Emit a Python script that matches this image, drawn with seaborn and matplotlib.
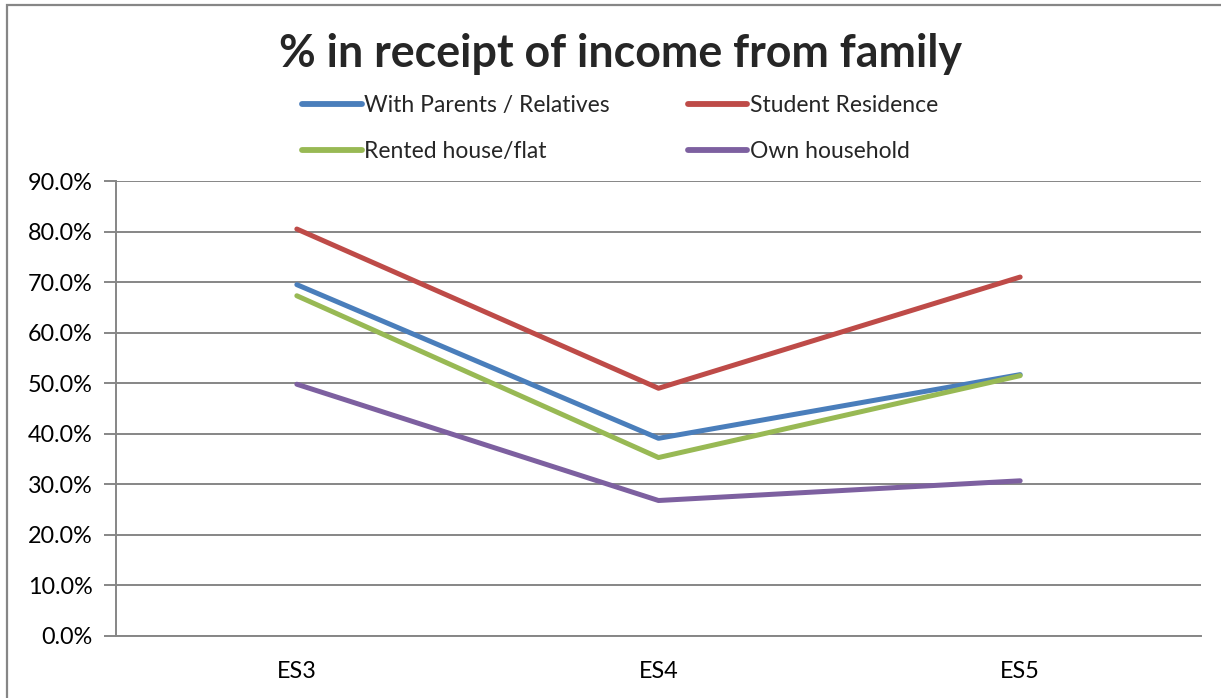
import matplotlib
matplotlib.use("Agg")
import matplotlib.pyplot as plt
from matplotlib.patches import Rectangle
from matplotlib.ticker import PercentFormatter
import pandas as pd
import seaborn as sns

# Survey waves and share receiving income from family (%) by housing type
waves = ["ES3", "ES4", "ES5"]
with_parents = [69.5, 39.1, 51.7]
student_residence = [80.5, 49.0, 71.0]
rented_flat = [67.3, 35.3, 51.5]
own_household = [49.8, 26.8, 30.7]

series_names = ["With Parents / Relatives", "Student Residence",
                "Rented house/flat", "Own household"]
series_values = [with_parents, student_residence, rented_flat, own_household]
series_colors = ["#4A7EBB", "#BE4B48", "#98B954", "#7D60A0"]

rows = []
for name, vals in zip(series_names, series_values):
    for i, (w, v) in enumerate(zip(waves, vals)):
        rows.append({"wave": w, "pos": i, "series": name, "value": v})
df = pd.DataFrame(rows)

sns.set_style("white")
plt.rcParams["font.family"] = ["Lato", "DejaVu Sans"]

grid_color = "#868686"
fig = plt.figure(figsize=(12.21, 6.98), dpi=100)
ax = fig.add_axes([116 / 1221, 62 / 698, 1085 / 1221, 455 / 698])

sns.lineplot(data=df, x="pos", y="value", hue="series", hue_order=series_names,
             palette=series_colors, linewidth=3.6, ax=ax, legend=False,
             solid_capstyle="round", zorder=3)

ax.set_xlim(-0.5, len(waves) - 0.5)
ax.set_ylim(0, 90)
ax.set_yticks(range(0, 91, 10))
ax.yaxis.set_major_formatter(PercentFormatter(decimals=1))
ax.set_xticks(range(len(waves)))
ax.set_xticklabels(waves)
ax.set_xlabel("")
ax.set_ylabel("")

ax.grid(axis="y", color=grid_color, linewidth=1.4)
ax.grid(axis="x", visible=False)
for side in ["top", "right"]:
    ax.spines[side].set_visible(False)
for side in ["left", "bottom"]:
    ax.spines[side].set_color(grid_color)
    ax.spines[side].set_linewidth(1.4)
ax.tick_params(axis="y", length=9, width=1.4, color=grid_color, pad=8,
               labelsize=16.8, labelcolor="black", left=True)
ax.tick_params(axis="x", length=0, pad=18, labelsize=16.8, labelcolor="black")

fig.text(0.508, 0.923, "% in receipt of income from family", ha="center",
         va="center", fontsize=32.2, fontweight="bold")

# Two legend columns filled column by column: left column, then right column
order = [0, 2, 1, 3]
handles = [plt.Line2D([], [], color=series_colors[i], linewidth=4.2,
                      solid_capstyle="round") for i in order]
labels = [series_names[i] for i in order]
fig.legend(handles, labels, loc="upper left",
           bbox_to_anchor=(291 / 1221, 1 - 84 / 698), ncol=2, frameon=False,
           fontsize=16.5, handlelength=2.6, handletextpad=0.1,
           columnspacing=3.4, labelspacing=1.05, borderpad=0)

fig.add_artist(Rectangle((7 / 1221, -0.2), 1.2, 1.2 - 5 / 698,
                         transform=fig.transFigure, fill=False,
                         edgecolor=grid_color, linewidth=1.6))

fig.savefig("out.png", dpi=100)
